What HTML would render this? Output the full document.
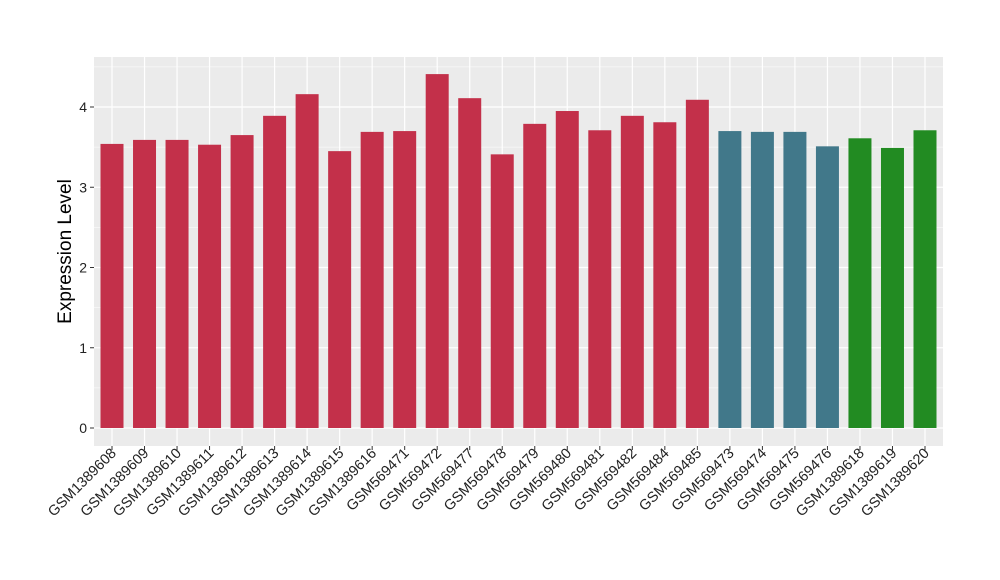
<!DOCTYPE html>
<html><head><meta charset="utf-8"><style>body{margin:0;background:#fff}svg{display:block;font-family:"Liberation Sans",sans-serif}</style></head>
<body>
<svg id="chart" width="1000" height="580"></svg>
<script>
const categories=["GSM1389608","GSM1389609","GSM1389610","GSM1389611","GSM1389612","GSM1389613","GSM1389614","GSM1389615","GSM1389616","GSM569471","GSM569472","GSM569477","GSM569478","GSM569479","GSM569480","GSM569481","GSM569482","GSM569484","GSM569485","GSM569473","GSM569474","GSM569475","GSM569476","GSM1389618","GSM1389619","GSM1389620"];
const values=[3.54,3.59,3.59,3.53,3.65,3.89,4.16,3.45,3.69,3.70,4.41,4.11,3.41,3.79,3.95,3.71,3.89,3.81,4.09,3.70,3.69,3.69,3.51,3.61,3.49,3.71];
const groups=[0,0,0,0,0,0,0,0,0,0,0,0,0,0,0,0,0,0,0,1,1,1,1,2,2,2];
const groupColors=["#C3304A","#41788A","#228B22"];
const yTicks=[0,1,2,3,4];
const NS="http://www.w3.org/2000/svg";
const svg=document.getElementById('chart');
const L=94,R=943,T=57,B=446;
const y0=428,yScale=80.25;
const y=v=>y0-v*yScale;
const pad=18;
const step=(R-L-2*pad)/(categories.length-1);
const x=i=>L+pad+step*i;
const bw=23;
function mk(t,a,p){const e=document.createElementNS(NS,t);for(const k in a)e.setAttribute(k,a[k]);(p||svg).appendChild(e);return e;}
const panel=mk('rect',{x:L,y:T,width:R-L,height:B-T,fill:'#EBEBEB'});


const grid=mk('g',{});


for(let v=0.5;v<4.7;v+=1)mk('line',{x1:L,x2:R,y1:y(v),y2:y(v),stroke:'#fff','stroke-width':0.6},grid);
yTicks.forEach(v=>mk('line',{x1:L,x2:R,y1:y(v),y2:y(v),stroke:'#fff','stroke-width':1.2},grid));
categories.forEach((c,i)=>mk('line',{x1:x(i),x2:x(i),y1:T,y2:B,stroke:'#fff','stroke-width':1.2},grid));
const bars=mk('g',{});


values.forEach((v,i)=>{const r=mk('rect',{x:x(i)-bw/2,y:y(v),width:bw,height:y(0)-y(v),fill:groupColors[groups[i]]},bars);

});
const ya=mk('g',{});


yTicks.forEach(v=>{mk('line',{x1:L-4,x2:L,y1:y(v),y2:y(v),stroke:'#333'},ya);
const t=mk('text',{x:L-7,y:y(v)+5,'text-anchor':'end','font-size':14,fill:'#222'},ya);t.textContent=v;});
const xa=mk('g',{});


categories.forEach((c,i)=>{mk('line',{x1:x(i),x2:x(i),y1:B,y2:B+4,stroke:'#333'},xa);
const tx=x(i)+5,ty=B+8;
const t=mk('text',{x:tx,y:ty,'text-anchor':'end','font-size':14.5,fill:'#222',transform:`rotate(-45 ${tx} ${ty})`},xa);t.textContent=c;});
const yt=mk('text',{x:71,y:(T+B)/2,'text-anchor':'middle','font-size':19,fill:'#000',transform:`rotate(-90 71 ${(T+B)/2})`});
yt.textContent='Expression Level';


</script>
</body></html>
